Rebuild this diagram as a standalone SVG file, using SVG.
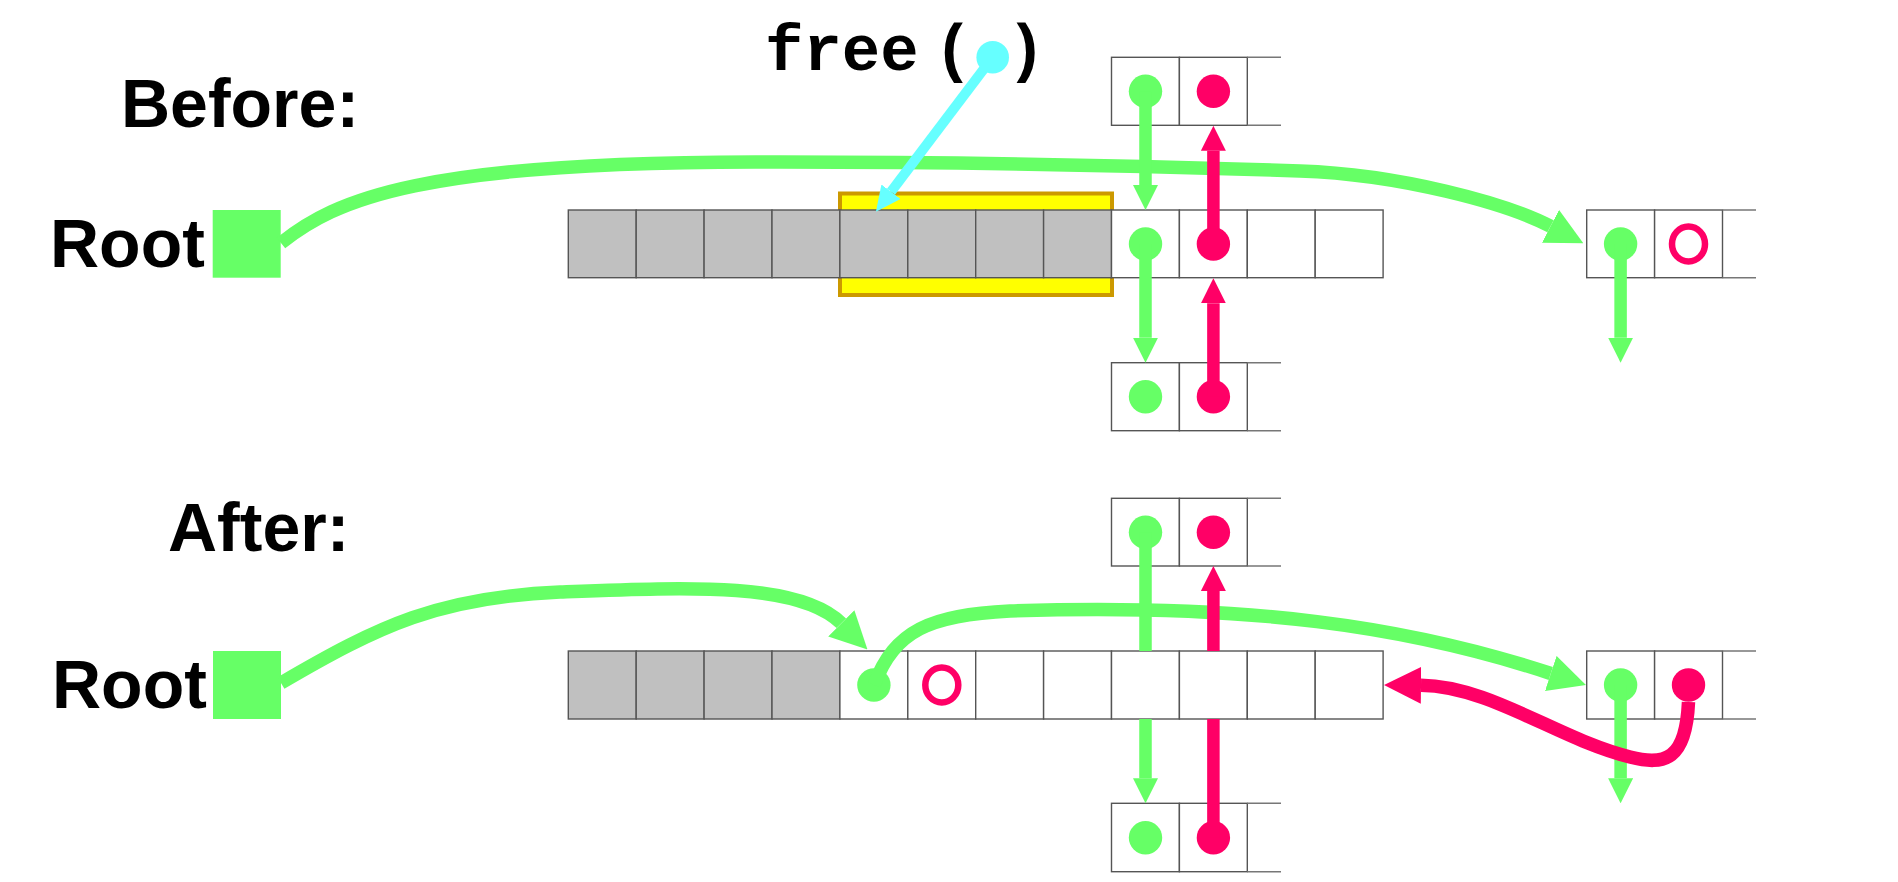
<svg xmlns="http://www.w3.org/2000/svg" width="1898" height="882" viewBox="0 0 1898 882">
<style>
.lbl{font-family:"Liberation Sans",Arial,sans-serif;font-weight:bold;font-size:68px;fill:#000}
.code{font-family:"Liberation Mono","Courier New",monospace;font-weight:bold;font-size:64px;fill:#000}
.cell{fill:#fff;stroke:#555;stroke-width:1.4}
.gcell{fill:#c0c0c0;stroke:#555;stroke-width:1.4}
.edge{stroke:#777;stroke-width:1.6;fill:none}
.gdot{fill:#66ff66}
.pdot{fill:#ff0066}
.pring{fill:none;stroke:#ff0066;stroke-width:6.5}
.root{fill:#66ff66}
.gbig{fill:none;stroke:#66ff66;stroke-width:13.5}
.pbig{fill:none;stroke:#ff0066;stroke-width:13.5}
.gthin{fill:none;stroke:#66ff66;stroke-width:12.5}
.pthin{fill:none;stroke:#ff0066;stroke-width:12.5}
.cy{fill:none;stroke:#66ffff;stroke-width:10}
</style>
<defs>
<marker id="mGs" viewBox="0 -12.5 25 25" refX="0" refY="0" markerWidth="25" markerHeight="25" markerUnits="userSpaceOnUse" orient="auto"><path d="M0,-12.5 L25,0 L0,12.5 z" fill="#66ff66"/></marker>
<marker id="mPs" viewBox="0 -12.5 25 25" refX="0" refY="0" markerWidth="25" markerHeight="25" markerUnits="userSpaceOnUse" orient="auto"><path d="M0,-12.5 L25,0 L0,12.5 z" fill="#ff0066"/></marker>
<marker id="mGb" viewBox="0 -18.5 37 37" refX="0" refY="0" markerWidth="37" markerHeight="37" markerUnits="userSpaceOnUse" orient="auto"><path d="M0,-18.5 L37,0 L0,18.5 z" fill="#66ff66"/></marker>
<marker id="mPb" viewBox="0 -18.5 37 37" refX="0" refY="0" markerWidth="37" markerHeight="37" markerUnits="userSpaceOnUse" orient="auto"><path d="M0,-18.5 L37,0 L0,18.5 z" fill="#ff0066"/></marker>
<marker id="mC" viewBox="0 -12 25 24" refX="0" refY="0" markerWidth="25" markerHeight="24" markerUnits="userSpaceOnUse" orient="auto"><path d="M0,-12 L25,0 L0,12 z" fill="#66ffff"/></marker>
</defs>
<rect width="1898" height="882" fill="#fff"/>

<g id="labels">
<text class="lbl" x="121" y="127">Before:</text>
<text class="lbl" x="168" y="551">After:</text>
<text class="code" x="765" y="70">free<tspan x="934">(</tspan><tspan x="1007">)</tspan></text>
</g>

<!-- BEFORE -->
<g id="root-before">
<text class="lbl" x="50" y="267">Root</text>
<rect class="root" x="212.7" y="210" width="68" height="67.7"/>
</g>

<g id="freed-block">
<rect x="840" y="193.5" width="272" height="101.5" fill="#ffff00" stroke="#cc9900" stroke-width="4"/>
</g>

<g id="heap-before">
<rect class="gcell" x="568.3" y="210" width="67.9" height="67.7"/>
<rect class="gcell" x="636.2" y="210" width="67.9" height="67.7"/>
<rect class="gcell" x="704.1" y="210" width="67.9" height="67.7"/>
<rect class="gcell" x="772" y="210" width="67.9" height="67.7"/>
<rect class="gcell" x="839.9" y="210" width="67.9" height="67.7"/>
<rect class="gcell" x="907.8" y="210" width="67.9" height="67.7"/>
<rect class="gcell" x="975.7" y="210" width="67.9" height="67.7"/>
<rect class="gcell" x="1043.6" y="210" width="67.9" height="67.7"/>
<rect class="cell" x="1111.5" y="210" width="67.9" height="67.7"/>
<rect class="cell" x="1179.4" y="210" width="67.9" height="67.7"/>
<rect class="cell" x="1247.3" y="210" width="67.9" height="67.7"/>
<rect class="cell" x="1315.2" y="210" width="67.9" height="67.7"/>
<circle class="gdot" cx="1145.5" cy="244" r="16.7"/>
<circle class="pdot" cx="1213.4" cy="244" r="16.7"/>
</g>

<g id="top-before">
<rect class="cell" x="1111.5" y="57.3" width="67.9" height="68"/>
<rect class="cell" x="1179.4" y="57.3" width="67.9" height="68"/>
<path class="edge" d="M1247.3,57.3 H1281 M1247.3,125.3 H1281"/>
<circle class="gdot" cx="1145.5" cy="91.3" r="16.7"/>
<circle class="pdot" cx="1213.4" cy="91.3" r="16.7"/>
</g>

<g id="bottom-before">
<rect class="cell" x="1111.5" y="362.7" width="67.9" height="68"/>
<rect class="cell" x="1179.4" y="362.7" width="67.9" height="68"/>
<path class="edge" d="M1247.3,362.7 H1281 M1247.3,430.7 H1281"/>
<circle class="gdot" cx="1145.5" cy="396.7" r="16.7"/>
<circle class="pdot" cx="1213.4" cy="396.7" r="16.7"/>
</g>

<g id="right-before">
<rect class="cell" x="1586.7" y="210" width="67.9" height="67.7"/>
<rect class="cell" x="1654.6" y="210" width="67.9" height="67.7"/>
<path class="edge" d="M1722.5,210 H1756 M1722.5,277.7 H1756"/>
<circle class="gdot" cx="1620.6" cy="244" r="16.7"/>
<ellipse class="pring" cx="1688.5" cy="244" rx="16.5" ry="17.5"/>
</g>

<!-- AFTER -->
<g id="root-after">
<text class="lbl" x="52" y="708">Root</text>
<rect class="root" x="213" y="651" width="68" height="68"/>
</g>

<g id="heap-after">
<rect class="gcell" x="568.3" y="651" width="67.9" height="68"/>
<rect class="gcell" x="636.2" y="651" width="67.9" height="68"/>
<rect class="gcell" x="704.1" y="651" width="67.9" height="68"/>
<rect class="gcell" x="772" y="651" width="67.9" height="68"/>
<rect class="cell" x="839.9" y="651" width="67.9" height="68"/>
<rect class="cell" x="907.8" y="651" width="67.9" height="68"/>
<rect class="cell" x="975.7" y="651" width="67.9" height="68"/>
<rect class="cell" x="1043.6" y="651" width="67.9" height="68"/>
<rect class="cell" x="1111.5" y="651" width="67.9" height="68"/>
<rect class="cell" x="1179.4" y="651" width="67.9" height="68"/>
<rect class="cell" x="1247.3" y="651" width="67.9" height="68"/>
<rect class="cell" x="1315.2" y="651" width="67.9" height="68"/>
<circle class="gdot" cx="873.9" cy="685" r="16.7"/>
<ellipse class="pring" cx="941.8" cy="685" rx="16.5" ry="17.5"/>
</g>

<g id="top-after">
<rect class="cell" x="1111.5" y="498.3" width="67.9" height="67.7"/>
<rect class="cell" x="1179.4" y="498.3" width="67.9" height="67.7"/>
<path class="edge" d="M1247.3,498.3 H1281 M1247.3,566 H1281"/>
<circle class="gdot" cx="1145.5" cy="532.3" r="16.7"/>
<circle class="pdot" cx="1213.4" cy="532.3" r="16.7"/>
</g>

<g id="bottom-after">
<rect class="cell" x="1111.5" y="803.3" width="67.9" height="68.4"/>
<rect class="cell" x="1179.4" y="803.3" width="67.9" height="68.4"/>
<path class="edge" d="M1247.3,803.3 H1281 M1247.3,871.7 H1281"/>
<circle class="gdot" cx="1145.5" cy="837.7" r="16.7"/>
<circle class="pdot" cx="1213.4" cy="837.7" r="16.7"/>
</g>

<g id="right-after">
<rect class="cell" x="1586.7" y="651" width="67.9" height="68"/>
<rect class="cell" x="1654.6" y="651" width="67.9" height="68"/>
<path class="edge" d="M1722.5,651 H1756 M1722.5,719 H1756"/>
<circle class="gdot" cx="1620.6" cy="685" r="16.7"/>
<circle class="pdot" cx="1688.5" cy="685" r="16.7"/>
</g>

<g id="connectors">
<path class="gbig" marker-end="url(#mGb)" d="M281,243 C335,200 420,160 780,162 C1000,162 1150,166 1300,171 C1400,174.3 1506.2,203.3 1550.5,226.3"/>
<path class="cy" marker-end="url(#mC)" d="M992.7,57.3 L891,191.7"/>
<circle cx="992.7" cy="57.3" r="16.3" fill="#66ffff"/>
<path class="gthin" marker-end="url(#mGs)" d="M1145.5,91.3 V185"/>
<path class="pthin" marker-end="url(#mPs)" d="M1213.4,244 V150.8"/>
<path class="gthin" marker-end="url(#mGs)" d="M1145.5,244 V337.7"/>
<path class="pthin" marker-end="url(#mPs)" d="M1213.4,396.7 V303.3"/>
<path class="gthin" marker-end="url(#mGs)" d="M1620.6,244 V337.7"/>
<path class="gbig" marker-end="url(#mGb)" d="M281,683 C380,625 440,597 560,592 C690,587 800,582 841.3,623.3"/>
<path class="gbig" marker-end="url(#mGb)" d="M874,685 C895,630 930,615 1010,611 C1250,603 1408.3,626.5 1550.8,673.5"/>
<path class="gthin" marker-end="url(#mGs)" d="M1145.5,532.3 V651 M1145.5,719 V778.3"/>
<path class="pthin" marker-end="url(#mPs)" d="M1213.4,837.7 V719 M1213.4,651 V591"/>
<path class="gthin" marker-end="url(#mGs)" d="M1620.6,685 V778.3"/>
<path class="pbig" marker-end="url(#mPb)" d="M1688.5,702 C1686,760 1665,766 1630,757 C1560,740 1490,686 1421,685.3"/>
</g>
</svg>
